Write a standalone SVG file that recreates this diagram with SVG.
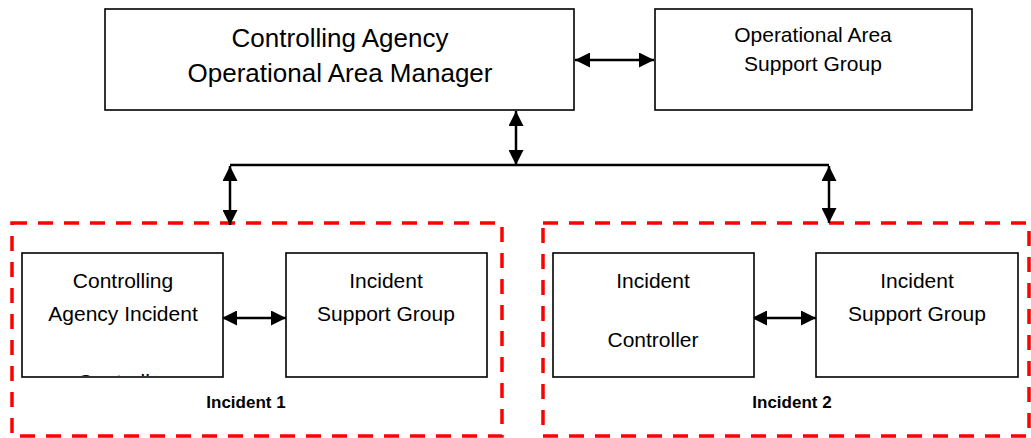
<svg xmlns="http://www.w3.org/2000/svg" width="1031" height="438" viewBox="0 0 1031 438">
  <defs>
    <marker id="head" viewBox="0 0 10 10" refX="10" refY="5" markerWidth="6" markerHeight="6" orient="auto-start-reverse" markerUnits="strokeWidth">
      <path d="M0,0 L10,5 L0,10 Z" fill="#000"/>
    </marker>
    <clipPath id="clipCAIC">
      <rect x="23" y="254" width="199" height="122"/>
    </clipPath>
  </defs>
  <style>
    .box { fill: #fff; stroke: #000; stroke-width: 1.6; }
    .zone { fill: none; stroke: #f00; stroke-width: 3.5; stroke-dasharray: 15 11; }
    .wire { fill: none; stroke: #000; stroke-width: 2.5; }
    .both { marker-start: url(#head); marker-end: url(#head); }
    text { font-family: "Liberation Sans", Arial, sans-serif; fill: #000; text-anchor: middle; }
    .big { font-size: 26px; }
    .mid { font-size: 21px; }
    .lbl { font-size: 17px; font-weight: bold; }
  </style>
  <rect width="1031" height="438" fill="#fff"/>

  <!-- incident zones -->
  <g id="incident1">
    <rect class="zone" x="12" y="223" width="490" height="213"/>
    <text class="lbl" x="246" y="408">Incident 1</text>
  </g>
  <g id="incident2">
    <rect class="zone" x="543" y="223" width="486" height="213"/>
    <text class="lbl" x="792" y="408">Incident 2</text>
  </g>

  <!-- connectors -->
  <g id="connectors">
    <line class="wire both" x1="575" y1="60" x2="654" y2="60"/>
    <line class="wire both" x1="516" y1="111" x2="516" y2="165"/>
    <line class="wire" x1="230" y1="165" x2="829" y2="165"/>
    <line class="wire both" x1="230" y1="166" x2="230" y2="225"/>
    <line class="wire both" x1="829" y1="166" x2="829" y2="223"/>
    <line class="wire both" x1="222" y1="318" x2="286" y2="318"/>
    <line class="wire both" x1="752" y1="318" x2="816" y2="318"/>
  </g>

  <!-- nodes -->
  <g id="oam">
    <rect class="box" x="105" y="9" width="469" height="101"/>
    <text class="big" x="340" y="47">Controlling Agency</text>
    <text class="big" x="340" y="82">Operational Area Manager</text>
  </g>
  <g id="oasg">
    <rect class="box" x="655" y="9" width="317" height="101"/>
    <text class="mid" x="813" y="42">Operational Area</text>
    <text class="mid" x="813" y="71">Support Group</text>
  </g>
  <g id="caic">
    <rect class="box" x="22" y="253" width="201" height="124"/>
    <g clip-path="url(#clipCAIC)">
      <text class="mid" x="123" y="288">Controlling</text>
      <text class="mid" x="123" y="321">Agency Incident</text>
      <text class="mid" x="123" y="389">Controller</text>
    </g>
  </g>
  <g id="isg1">
    <rect class="box" x="286" y="253" width="201" height="124"/>
    <text class="mid" x="386" y="288">Incident</text>
    <text class="mid" x="386" y="321">Support Group</text>
  </g>
  <g id="ic2">
    <rect class="box" x="553" y="253" width="201" height="124"/>
    <text class="mid" x="653" y="288">Incident</text>
    <text class="mid" x="653" y="347">Controller</text>
  </g>
  <g id="isg2">
    <rect class="box" x="816" y="253" width="202" height="124"/>
    <text class="mid" x="917" y="288">Incident</text>
    <text class="mid" x="917" y="321">Support Group</text>
  </g>
</svg>
